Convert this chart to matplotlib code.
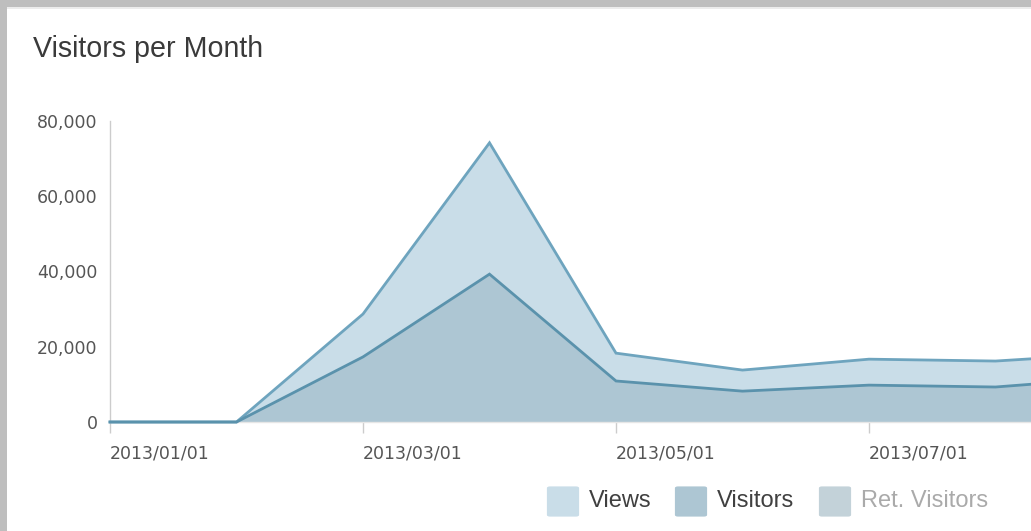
import matplotlib
matplotlib.use('Agg')
import matplotlib.pyplot as plt
from matplotlib.patches import Rectangle, FancyBboxPatch
from matplotlib.ticker import FuncFormatter

# data (monthly, 2013)
months = ['2013/01/01', '2013/02/01', '2013/03/01', '2013/04/01', '2013/05/01',
          '2013/06/01', '2013/07/01', '2013/08/01', '2013/09/01']
views = [0, 0, 28700, 74200, 18300, 13800, 16700, 16200, 18300]
visitors = [0, 0, 17300, 39300, 10900, 8200, 9800, 9300, 11900]
tick_labels = ['2013/01/01', '2013/03/01', '2013/05/01', '2013/07/01']
legend_labels = ['Views', 'Visitors', 'Ret. Visitors']
y_ticks = [0, 20000, 40000, 60000, 80000]

W, H = 1031, 531
FONT = 'Liberation Sans'


def fx(px):
    return px / W


def fy(py):
    # py measured from top
    return 1 - py / H


fig = plt.figure(figsize=(W / 100, H / 100), dpi=100)
fig.patch.set_facecolor('white')

# grey frame at top and left
fig.patches.append(Rectangle((0, fy(7)), 1, 7 / H, transform=fig.transFigure,
                             facecolor='#bebebe', edgecolor='none'))
fig.patches.append(Rectangle((0, fy(9)), 1, 2 / H, transform=fig.transFigure,
                             facecolor='#ececec', edgecolor='none'))
fig.patches.append(Rectangle((0, 0), 7 / W, 1, transform=fig.transFigure,
                             facecolor='#bebebe', edgecolor='none'))

fig.text(fx(33), fy(57), 'Visitors per Month', fontsize=20.6, family=FONT,
         color='#3a3a3a', ha='left', va='baseline')

ax = fig.add_axes([fx(110), fy(422), 1 - fx(110), (422 - 121) / H])
x = list(range(len(months)))

views_fill = '#c9dde8'
views_line = '#6ea4be'
vis_fill = '#adc6d3'
vis_line = '#5a92ac'

ax.fill_between(x, 0, views, color=views_fill, linewidth=0, zorder=1)
ax.fill_between(x, 0, visitors, color=vis_fill, linewidth=0, zorder=2)
ax.plot(x, views, color=views_line, linewidth=2, zorder=3, clip_on=False,
        solid_joinstyle='miter')
ax.plot(x, visitors, color=vis_line, linewidth=2, zorder=4, clip_on=False,
        solid_joinstyle='miter')

ax.set_xlim(0, (W - 110) / 126.5)
ax.set_ylim(0, 80000)

ax.set_yticks(y_ticks)
ax.yaxis.set_major_formatter(FuncFormatter(lambda v, p: f'{int(v):,}'))
ax.tick_params(axis='y', length=0, pad=9, labelsize=12.5, labelcolor='#555555')

ax.set_xticks([months.index(t) for t in tick_labels])
ax.set_xticklabels(tick_labels)
ax.tick_params(axis='x', length=8, width=1, color='#cccccc', pad=8,
               labelsize=12.5, labelcolor='#555555')
for lbl in ax.get_xticklabels():
    lbl.set_horizontalalignment('left')
for lbl in ax.get_xticklabels() + ax.get_yticklabels():
    lbl.set_family('DejaVu Sans')

for side in ['top', 'right']:
    ax.spines[side].set_visible(False)
ax.spines['left'].set_color('#cccccc')
ax.spines['left'].set_linewidth(1)
ax.spines['bottom'].set_color('#e6e6e6')
ax.spines['bottom'].set_linewidth(1)
ax.set_facecolor('none')

# legend at bottom right
leg_colors = [views_fill, vis_fill, '#c3d2d9']
leg_text_colors = ['#404040', '#404040', '#aaaaaa']
leg_box_x = [547, 675, 819]
for lab, c, tc, bx in zip(legend_labels, leg_colors, leg_text_colors, leg_box_x):
    fig.patches.append(FancyBboxPatch((fx(bx + 3), fy(515)), 26 / W, 27 / H,
                                      boxstyle='round,pad=0.003',
                                      transform=fig.transFigure,
                                      facecolor=c, edgecolor='none'))
    fig.text(fx(bx + 42), fy(501), lab, fontsize=17, family=FONT, color=tc,
             ha='left', va='center')

fig.savefig('out.png', dpi=100)
